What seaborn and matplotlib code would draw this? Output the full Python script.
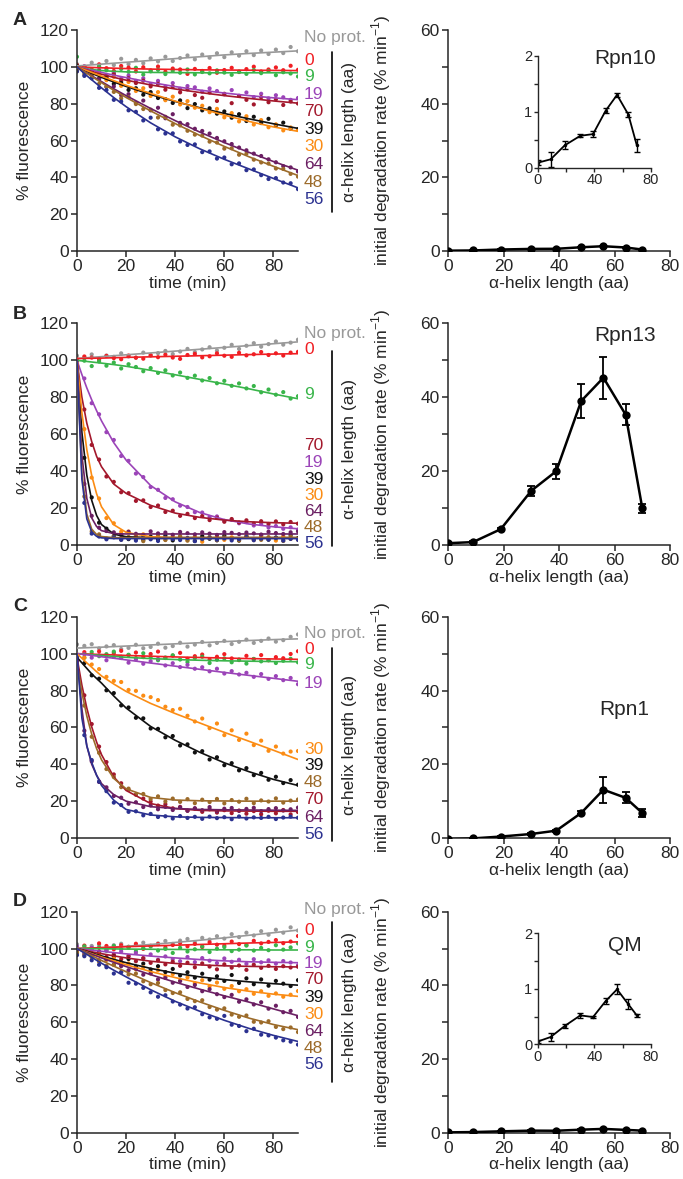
import numpy as np
import pandas as pd
import matplotlib
matplotlib.use("Agg")
import matplotlib.pyplot as plt
import seaborn as sns

# time points (min)
fit_time = [0, 2, 4, 6, 8, 10, 15, 20, 30, 40, 50, 60, 70, 80, 90]
dot_time = list(range(0, 91, 3))

series = ["No prot.", "0", "9", "19", "70", "39", "30", "64", "48", "56"]
palette = {"No prot.": "#999999", "0": "#f01e23", "9": "#39b54a", "19": "#9b44b8",
           "70": "#a3182c", "39": "#111111", "30": "#fb8c14", "64": "#6b1f63",
           "48": "#9c6b2a", "56": "#2b3190"}

# ---- panel A (Rpn10) ----
fit_A = {
    "No prot.": [100.5, 100.7, 100.9, 101.1, 101.3, 101.5, 102, 102.5, 103.5, 104.5, 105.5, 106.5, 107.3, 108, 108.7],
    "0": [100, 99.9, 99.8, 99.7, 99.6, 99.5, 99.3, 99.1, 98.8, 98.6, 98.4, 98.3, 98.2, 98.1, 98],
    "9": [100, 99.5, 99, 98.6, 98.3, 98, 97.6, 97.3, 97, 96.9, 96.8, 96.8, 96.8, 96.8, 96.8],
    "19": [100, 99.4, 98.8, 98.2, 97.6, 97, 95.5, 94.2, 91.6, 89.3, 87.4, 85.8, 84.4, 83.2, 82.2],
    "70": [100, 99.1, 98.3, 97.5, 96.7, 96, 94.3, 92.8, 90.2, 88, 86.1, 84.4, 82.9, 81.5, 80.3],
    "39": [100, 98.8, 97.6, 96.5, 95.4, 94.3, 91.8, 89.4, 85, 81.2, 77.8, 74.7, 71.8, 69.1, 66.6],
    "30": [100, 99, 98, 97, 96, 95, 92.5, 90, 85.6, 81.4, 77.5, 73.8, 70.4, 67.4, 65],
    "64": [100, 98.4, 96.8, 95.2, 93.6, 92, 88.1, 84.4, 77.4, 70.8, 64.6, 58.9, 53.6, 48.6, 43.9],
    "48": [100, 98.2, 96.5, 94.8, 93.1, 91.4, 87.3, 83.4, 76.1, 69.2, 62.8, 56.8, 51.2, 46, 41],
    "56": [100, 97.6, 95.2, 93, 90.8, 88.6, 83.3, 78.4, 69.6, 62, 55.5, 49.8, 44.6, 39.4, 34.3],
}
dots_A = {
    "No prot.": [101.5, 99.8, 102.3, 100.4, 103.2, 101, 104.4, 101.5, 103.8, 102, 104.6, 103, 105.5, 103.2, 104.8, 106.2, 104.1, 106.7, 105, 107.4, 105.3, 107.9, 106.1, 108.5, 106.4, 108.9, 107, 109.4, 107.5, 110.8, 108.5],
    "0": [101, 100.2, 98.6, 101.4, 99.3, 97.8, 100.5, 99.6, 97.5, 99.8, 98.1, 100.2, 97.4, 99.1, 98.6, 96.2, 98.9, 97.8, 99.4, 96.8, 98.3, 99.5, 97.2, 98.8, 100.1, 97.5, 98.6, 99.7, 98.2, 100.6, 98.4],
    "9": [105.5, 99.2, 97.8, 100.1, 98.2, 96.4, 98.9, 97.3, 99.5, 95.8, 97.6, 98.4, 96.1, 97.9, 96.8, 98.6, 95.9, 97.2, 96.5, 98.1, 96.9, 95.7, 97.5, 96.2, 98.3, 96.6, 97.8, 95.5, 97.1, 96.4, 94.8],
    "19": [99.4, 100.3, 97.1, 98.4, 95.2, 96.8, 93.6, 95.3, 92.4, 93.8, 90.5, 92.4, 89.3, 91.2, 88.1, 89.6, 88.9, 86.5, 88.3, 86.9, 85.1, 87.4, 84.3, 86.1, 83.6, 85.4, 82.9, 84.6, 83.5, 82.1, 83.1],
    "70": [98.2, 99.6, 96.4, 97.8, 94.6, 95.9, 92.3, 93.8, 91.2, 92.5, 89.4, 90.8, 87.6, 89.3, 86.2, 87.8, 84.7, 83.2, 86.1, 81.5, 85.4, 80.3, 84.2, 82.1, 79.6, 83.5, 80.8, 82.4, 79.3, 81.2, 80.1],
    "39": [100.5, 97.1, 97.4, 93.6, 94.5, 90.8, 91.2, 87.5, 88.4, 84.9, 86.3, 83.1, 82.5, 80.4, 81.8, 77.6, 79.8, 76.4, 77.5, 74.6, 75.8, 72.4, 74.3, 70.6, 72.9, 69.5, 71.8, 68.2, 69.7, 66.4, 66.2],
    "30": [97.8, 99.3, 95.6, 96.7, 92.8, 94.6, 89.7, 91.8, 86.9, 88.4, 84.2, 86.3, 81.9, 83.8, 79.6, 81.4, 77.8, 78.9, 75.4, 77.2, 72.6, 74.9, 70.4, 73.2, 68.7, 71.1, 67.2, 68.8, 65.5, 67.1, 65.8],
    "64": [99, 97.8, 94.1, 93.6, 89.2, 89.4, 84.6, 85.2, 80.3, 81.7, 76.4, 77.8, 72.1, 74.3, 69.6, 68.9, 66.4, 65.2, 63.8, 61.4, 59.6, 58.1, 56.2, 54.7, 52.9, 51.6, 49.8, 48.2, 46.1, 45.4, 43.2],
    "48": [98.5, 95.9, 95.6, 90.8, 89.2, 86.4, 82.9, 83.6, 79.8, 77.1, 76.8, 72.5, 72.9, 68.6, 68.2, 65.3, 63.2, 62.7, 59.4, 58.9, 55.6, 55.8, 52.3, 52.9, 49.6, 48.1, 47.5, 44.8, 44.6, 41.9, 40.4],
    "56": [97.5, 95.1, 93.8, 88.6, 87.4, 82.1, 81.2, 76.4, 75.6, 70.9, 72.4, 66.1, 63.8, 63.9, 59.5, 57.6, 57.9, 53.7, 54.1, 50.2, 50.8, 47.1, 47.6, 43.9, 44.3, 41.2, 39.1, 39.6, 37.2, 36.8, 33.6],
}

# ---- panel B (Rpn13) ----
fit_B = {
    "No prot.": [101, 101.2, 101.4, 101.6, 101.8, 102, 102.5, 103, 104, 105, 106, 107, 108, 109, 110],
    "0": [101, 101, 101.1, 101.1, 101.2, 101.2, 101.4, 101.6, 101.9, 102.2, 102.5, 102.8, 103.1, 103.4, 103.6],
    "9": [100, 99.7, 99.4, 99.1, 98.8, 98.5, 97.7, 96.8, 94.6, 92.2, 89.7, 87.2, 84.6, 81.8, 79.2],
    "19": [100, 92.3, 85.1, 78.6, 72.7, 67.2, 55.4, 46, 32.2, 23.4, 17.6, 13.8, 11.4, 9.9, 8.8],
    "70": [100, 80, 66, 56, 48, 42.4, 33, 28, 21.5, 17.3, 15, 13.5, 12.6, 12.1, 11.8],
    "39": [100, 61, 37.9, 24.2, 16, 11.1, 5.9, 4.5, 4, 4, 4, 4, 4, 4, 4],
    "30": [100, 71.7, 51.7, 37.6, 27.7, 20.7, 11, 6.9, 4.5, 4, 4, 4, 4, 4, 4],
    "64": [100, 48.6, 25.3, 14.7, 10, 7.8, 6.2, 6, 6, 6, 6, 6, 6, 6, 6],
    "48": [100, 39, 16.8, 8.6, 5.7, 4.6, 4, 4, 4, 4, 4, 4, 4, 4, 4],
    "56": [100, 35.6, 14.2, 7.1, 4.7, 3.9, 3.5, 3.5, 3.5, 3.5, 3.5, 3.5, 3.5, 3.5, 3.5],
}
dots_B = {
    "No prot.": [102.5, 101.4, 103.2, 100.8, 102.6, 101.9, 103.8, 102.1, 101.5, 104.2, 102.6, 103.9, 105.1, 103.4, 104.8, 106.2, 104.5, 105.9, 107.1, 105.3, 106.8, 108.4, 106.2, 107.9, 109.3, 107.4, 108.8, 110.2, 108.5, 109.6, 111.2],
    "0": [100.5, 102.1, 101.5, 100.3, 102.4, 101.2, 100.6, 102.6, 101.4, 100.9, 102.8, 101.7, 103.1, 101.5, 100.8, 102.9, 103.5, 101.6, 102.2, 103.8, 102.5, 101.9, 104.1, 102.7, 103.3, 104.5, 102.9, 103.8, 102.6, 104.2, 104.6],
    "9": [98.2, 99.8, 96.9, 99.4, 97.1, 98.8, 95.6, 97.9, 96.4, 94.1, 95.8, 93.2, 94.6, 91.8, 93.4, 90.5, 91.7, 89.1, 90.4, 87.6, 88.9, 86.2, 87.5, 84.8, 86.1, 82.7, 84.2, 81.4, 82.8, 79.3, 80.6],
    "19": [97.4, 90.2, 76.8, 70.8, 61.1, 56.9, 48.2, 45.6, 38.7, 36.8, 31.4, 29.9, 25.5, 24.8, 21.3, 20.6, 17.8, 17.6, 15.2, 15.5, 13.1, 13.6, 11.8, 12.4, 10.6, 11.4, 9.5, 10.3, 8.8, 9.6, 8.4],
    "70": [98.5, 73.4, 54.2, 46.3, 37.1, 34.2, 28.6, 28.1, 23.9, 24.2, 20.6, 21.4, 17.9, 18.6, 15.8, 16.9, 14.6, 15.7, 13.5, 14.8, 12.6, 14.1, 12.2, 13.4, 11.6, 12.9, 11.4, 12.8, 11.2, 12.5, 11.6],
    "39": [99, 47.2, 25.8, 12.1, 8.9, 4.8, 5.6, 3.2, 4.9, 2.8, 4.6, 3.1, 5.2, 2.5, 4.3, 3.6, 2.2, 4.8, 3.4, 2.6, 5.1, 3.8, 2.4, 4.5, 3.2, 5.3, 2.9, 4.1, 3.6, 5.5, 3.8],
    "30": [98.6, 62.8, 36.5, 25.2, 14.6, 11.8, 7.2, 7.3, 4.6, 5.8, 3.4, 5.2, 2.9, 4.7, 3.8, 2.6, 4.5, 1.8, 3.9, 4.6, 2.8, 4.2, 3.1, 5.1, 2.7, 4.6, 3.5, 2.4, 4.8, 3.3, 2.9],
    "64": [97, 33.1, 15.8, 9.4, 7.6, 6.9, 5.4, 7.2, 6.1, 5.2, 7.4, 6.3, 6.8, 5.6, 7.1, 6.4, 5.8, 6.9, 6.2, 5.5, 7, 6.6, 5.9, 6.8, 6.3, 5.7, 7.2, 6.5, 6, 6.9, 7.4],
    "48": [96, 26.3, 7.4, 5.8, 3.6, 4.8, 2.9, 4.4, 3.3, 2.1, 3.8, 4.6, 2.7, 3.5, 4.9, 2.4, 3.8, 3.1, 4.4, 2.6, 4.1, 3.3, 2.5, 4.7, 3.4, 2.8, 4.3, 3.6, 2.2, 4.5, 3.1],
    "56": [97, 22.8, 6.2, 4.6, 3.1, 4.2, 2.8, 3.5, 2.4, 3.9, 3.1, 2.2, 4.1, 3.3, 2.7, 3.8, 2.1, 3.4, 4, 2.9, 3.6, 2.5, 3.2, 4.4, 2.6, 3.5, 3, 3.9, 2.4, 3.3, 2.8],
}

# ---- panel C (Rpn1) ----
fit_C = {
    "No prot.": [103, 103.1, 103.2, 103.3, 103.4, 103.5, 103.8, 104.1, 104.7, 105.3, 105.9, 106.5, 107.1, 107.6, 108],
    "0": [100, 99.9, 99.8, 99.7, 99.6, 99.5, 99.3, 99, 98.6, 98.2, 97.9, 97.6, 97.3, 97.1, 96.9],
    "9": [100, 99.8, 99.6, 99.4, 99.2, 99, 98.5, 98, 97.3, 96.8, 96.4, 96.1, 95.9, 95.7, 95.6],
    "19": [100, 99.7, 99.4, 99, 98.7, 98.3, 97.5, 96.6, 94.9, 93.2, 91.5, 89.8, 88.2, 86.6, 85],
    "70": [98, 82.9, 70.5, 60.3, 52, 45.2, 33.1, 25.8, 18.7, 16, 15, 14.7, 14.6, 14.5, 14.5],
    "39": [98, 95, 92, 89, 86.5, 84, 77, 70.5, 60.5, 53, 46.5, 40.8, 36, 31.8, 28.5],
    "30": [100, 97.5, 95, 92.6, 90.2, 87.9, 83.5, 79.5, 73, 67.5, 62.4, 57.3, 52.5, 47.6, 42.6],
    "64": [100, 70, 50, 40, 34, 29.5, 23.5, 20, 17, 16, 15.5, 15.3, 15.2, 15.1, 15],
    "48": [95, 78.9, 66.2, 56.3, 48.5, 42.4, 32.3, 26.7, 22, 20.6, 20.2, 20.1, 20, 20, 20],
    "56": [100, 65, 50, 41, 34, 28.5, 20.5, 15.5, 12.5, 11.5, 11.2, 11.1, 11, 11, 11],
}
dots_C = {
    "No prot.": [105, 104.2, 105.1, 102.8, 103.9, 104.6, 102.5, 103.1, 104.8, 102.9, 103.6, 105.4, 103.2, 104.1, 105.9, 103.8, 104.9, 106.3, 104.5, 105.8, 106.9, 105.2, 106.4, 107.6, 105.8, 106.9, 108.2, 106.5, 107.3, 109.1, 110.4],
    "0": [98.5, 100.8, 99.4, 101.2, 98.9, 100.3, 101.5, 99.2, 100.6, 98.1, 99.8, 101.1, 97.6, 98.9, 100.4, 97.2, 98.6, 99.5, 96.8, 98.3, 99.7, 97.4, 96.5, 98.8, 97.1, 99.2, 96.4, 98.1, 97.5, 99.8, 101.3],
    "9": [99.2, 97.8, 100.9, 98.6, 99.7, 101.1, 98.3, 99.4, 97.6, 100.2, 98.1, 96.4, 97.9, 99.1, 96.8, 95.4, 97.6, 98.3, 94.9, 96.7, 97.4, 95.3, 96.8, 94.6, 97.1, 95.8, 96.5, 94.9, 96.1, 97.2, 95.3],
    "19": [98.2, 99.6, 97.8, 99.1, 96.4, 98.2, 97.6, 95.1, 96.8, 94.5, 95.9, 97.2, 93.6, 94.8, 92.7, 93.9, 91.8, 92.6, 90.4, 91.8, 89.2, 90.5, 88.7, 89.6, 87.4, 88.9, 86.3, 87.8, 85.6, 86.8, 83.4],
    "70": [96, 77.4, 61.8, 49.6, 41.2, 34.5, 29.7, 26.1, 23.6, 21.4, 19.8, 17.6, 18.3, 16.1, 16.9, 14.8, 15.9, 14.2, 15.6, 13.8, 15.1, 13.5, 14.9, 13.2, 14.6, 12.9, 14.8, 13.4, 15.2, 12.8, 14.1],
    "39": [97.5, 94.8, 88.2, 86.4, 80.1, 78.6, 71.9, 70.8, 65.2, 64.9, 59.4, 59.2, 54.6, 55.3, 50.2, 50.8, 46.4, 47.1, 42.6, 43.8, 39.5, 40.6, 36.7, 37.9, 34.1, 35.3, 31.6, 33.2, 29.8, 31.4, 28.9],
    "30": [99.3, 97.8, 94.1, 91.6, 87.4, 85.2, 84.6, 80.3, 79.8, 77.2, 76.4, 74.8, 71.2, 69.4, 70.1, 66.3, 63.2, 64.8, 59.6, 62.1, 55.8, 58.4, 53.2, 56.6, 50.4, 52.8, 47.3, 49.6, 45.8, 46.9, 47.2],
    "64": [98, 58.2, 41.6, 30.4, 27.5, 22.8, 21.9, 18.6, 19.4, 16.8, 17.7, 15.6, 16.9, 15.2, 16.6, 14.8, 16.2, 15.1, 16.8, 14.5, 15.9, 16.3, 14.7, 15.8, 16.4, 14.6, 15.7, 16.2, 14.9, 15.6, 16.5],
    "48": [92, 71.8, 54.9, 46.2, 37.4, 33.1, 27.6, 26.8, 23.5, 23.9, 21.2, 22.6, 19.8, 21.4, 19.6, 21.1, 18.9, 20.8, 19.5, 21.2, 18.8, 20.6, 19.7, 21.3, 18.9, 20.4, 19.8, 21.5, 19.2, 20.3, 20.9],
    "56": [98, 55.8, 42.3, 30.6, 25.4, 19.2, 17.9, 14.2, 14.5, 12.3, 13.1, 11.4, 11.8, 10.6, 11.9, 10.9, 11.5, 10.4, 11.6, 10.8, 11.3, 10.2, 11.7, 10.6, 11.2, 10.9, 11.5, 10.3, 11.1, 11.6, 11],
}

# ---- panel D (QM) ----
fit_D = {
    "No prot.": [100, 100.1, 100.2, 100.3, 100.4, 100.5, 100.8, 101.2, 102.2, 103.3, 104.5, 105.8, 107.2, 108.6, 110],
    "0": [100, 100.1, 100.2, 100.3, 100.4, 100.5, 100.7, 101, 101.4, 101.8, 102.2, 102.6, 103, 103.3, 103.6],
    "9": [100, 100, 100, 99.9, 99.9, 99.9, 99.8, 99.7, 99.6, 99.5, 99.4, 99.3, 99.3, 99.2, 99.2],
    "19": [100, 99.7, 99.4, 99.1, 98.8, 98.5, 97.8, 97.1, 95.9, 94.9, 94, 93.3, 92.8, 92.5, 92.3],
    "70": [100, 99.4, 98.8, 98.2, 97.7, 97.2, 96, 94.9, 93.1, 91.9, 91.1, 90.6, 90.3, 90.1, 90],
    "39": [100, 99.2, 98.4, 97.6, 96.8, 96, 94.1, 92.3, 89.2, 86.6, 84.6, 83.1, 81.9, 80.9, 80.1],
    "30": [100, 99, 98.1, 97.2, 96.3, 95.4, 93.3, 91.2, 87.5, 84.2, 81.3, 78.8, 76.8, 75.2, 74],
    "64": [100, 98.9, 97.9, 96.9, 95.9, 94.9, 92.5, 90.2, 85.8, 81.7, 77.9, 74.3, 70.9, 67.2, 63.5],
    "48": [100, 98.7, 97.4, 96.1, 94.8, 93.5, 90.4, 87.4, 81.5, 76, 71, 66.4, 62.2, 58.7, 55.9],
    "56": [100, 98.4, 96.8, 95.2, 93.6, 92, 88.2, 84.6, 77.6, 71.3, 65.9, 61, 56.6, 52.8, 49.5],
}
dots_D = {
    "No prot.": [102.3, 98.6, 101.4, 102.1, 99.5, 101.8, 102.6, 100.4, 101.9, 103.2, 101.1, 102.8, 104.1, 102.5, 104.3, 105.2, 103.4, 105.8, 104.9, 106.7, 105.4, 107.8, 106.2, 108.6, 107.1, 109.4, 107.5, 110.2, 108.6, 111.5, 109.8],
    "0": [99.8, 101.6, 100.2, 102.8, 101.4, 99.6, 101.8, 100.9, 102.6, 99.8, 101.5, 102.4, 100.6, 101.9, 103.1, 101.2, 102.5, 100.8, 103.4, 102.1, 101.6, 103.8, 102.4, 101.9, 104.2, 102.8, 103.6, 104.6, 102.9, 103.8, 106.8],
    "9": [98.6, 101.2, 99.4, 100.6, 98.8, 101.4, 99.7, 100.9, 98.5, 100.2, 101.3, 98.9, 99.8, 97.6, 100.4, 98.4, 99.6, 101.2, 98.1, 99.9, 100.8, 98.6, 99.4, 101.6, 98.9, 100.3, 99.1, 101.8, 99.4, 100.6, 102.8],
    "19": [101.2, 98.6, 100.4, 97.8, 99.3, 96.5, 98.4, 95.8, 97.6, 94.6, 96.8, 93.9, 95.7, 94.2, 93.1, 95.4, 92.6, 94.8, 93.4, 92.1, 94.6, 92.8, 93.9, 91.7, 94.2, 92.5, 93.6, 91.8, 93.2, 92.4, 90.9],
    "70": [98.8, 99.6, 97.2, 98.5, 95.4, 96.8, 94.2, 95.9, 93.1, 94.8, 92.2, 93.6, 91.4, 92.8, 90.6, 92.3, 89.8, 91.9, 90.2, 88.7, 91.4, 89.6, 90.8, 88.4, 91.2, 89.5, 90.6, 88.9, 90.4, 89.7, 90.1],
    "39": [97.6, 99.4, 96.2, 97.8, 94.1, 95.6, 92.4, 94.3, 90.2, 91.8, 88.6, 90.4, 87.2, 88.9, 85.4, 87.1, 84.2, 86.3, 83.1, 84.9, 82.4, 85.6, 81.3, 83.8, 80.6, 83.2, 79.8, 82.4, 80.9, 79.6, 82.8],
    "30": [98.2, 99.6, 96.5, 97.1, 93.8, 94.6, 91.4, 91.9, 88.7, 89.8, 86.4, 88.2, 84.9, 86.1, 82.6, 84.3, 81.2, 82.8, 79.4, 81.5, 78.1, 79.6, 76.8, 77.9, 75.4, 76.8, 74.3, 75.6, 73.8, 74.9, 76.9],
    "64": [99.2, 97.1, 96.8, 93.6, 94.2, 91.3, 90.4, 88.2, 89.1, 85.8, 86.6, 83.2, 84.1, 81.4, 82.3, 79.1, 80.2, 76.8, 77.9, 75.2, 73.6, 74.8, 71.1, 72.4, 69.6, 70.8, 67.3, 68.9, 65.4, 66.1, 62.8],
    "48": [97.8, 96.4, 95.2, 92.8, 90.6, 91.1, 87.3, 85.9, 86.4, 82.2, 80.6, 81.3, 77.4, 75.8, 76.2, 72.6, 71.4, 71.9, 68.2, 66.8, 67.5, 64.1, 62.9, 63.6, 60.2, 59.8, 60.5, 57.4, 56.2, 57.1, 54.6],
    "56": [96.4, 95.8, 93.6, 91.2, 89.8, 86.4, 87.1, 81.4, 80.9, 78.6, 76.2, 73.8, 74.6, 71.2, 69.5, 67.4, 68.1, 64.3, 62.6, 61.8, 63.4, 58.6, 57.9, 55.1, 56.4, 53.2, 52.8, 51.6, 50.1, 49.4, 47.8],
}

# initial degradation rates (% / min) vs helix length
helix = [0, 9, 19, 30, 39, 48, 56, 64, 70]
rate_A = [0.09, 0.15, 0.40, 0.57, 0.60, 1.02, 1.30, 0.95, 0.40]
err_A = [0.05, 0.13, 0.07, 0.03, 0.06, 0.05, 0.04, 0.04, 0.12]
rate_B = [0.5, 0.8, 4.3, 14.7, 20.0, 39.0, 45.3, 35.3, 10.0]
err_B = [0.2, 0.2, 0.3, 1.3, 2.0, 4.6, 5.7, 2.8, 1.2]
rate_C = [-0.3, -0.1, 0.4, 1.1, 2.0, 6.8, 13.1, 10.9, 6.8]
err_C = [0.2, 0.2, 0.2, 0.3, 0.3, 0.4, 3.5, 1.5, 1.0]
rate_D = [0.05, 0.13, 0.33, 0.52, 0.49, 0.78, 0.99, 0.72, 0.52]
err_D = [0.03, 0.07, 0.04, 0.05, 0.02, 0.05, 0.09, 0.09, 0.03]

# label order on the right of each time course
order_A = ["No prot.", "0", "9", "19", "70", "39", "30", "64", "48", "56"]
order_B = ["No prot.", "0", "9", "70", "19", "39", "30", "64", "48", "56"]
order_C = ["No prot.", "0", "9", "19", "30", "39", "48", "70", "64", "56"]
order_D = ["No prot.", "0", "9", "19", "70", "39", "30", "64", "48", "56"]

sns.set_style("ticks")
plt.rcParams["font.family"] = ["Liberation Sans", "DejaVu Sans"]
plt.rcParams["mathtext.fontset"] = "custom"
plt.rcParams["mathtext.rm"] = "Liberation Sans"
plt.rcParams["axes.linewidth"] = 1.1
FS = 12.5


def to_long(table, times):
    rows = []
    for name, vals in table.items():
        for t, v in zip(times, vals):
            rows.append((name, t, v))
    return pd.DataFrame(rows, columns=["series", "time", "fluor"])


def style_axes(ax):
    sns.despine(ax=ax)
    ax.tick_params(direction="out", length=4, width=1.1, labelsize=FS, pad=2)


def draw_curves(ax, fits, dots, order, label_y, bar):
    d = to_long(dots, dot_time)
    f = to_long(fits, fit_time)
    sns.scatterplot(data=d, x="time", y="fluor", hue="series", hue_order=series,
                    palette=palette, s=9, linewidth=0, legend=False, ax=ax, zorder=2)
    sns.lineplot(data=f, x="time", y="fluor", hue="series", hue_order=series,
                 palette=palette, lw=1.2, legend=False, errorbar=None, ax=ax, zorder=3)
    ax.set_xlim(0, 90)
    ax.set_ylim(0, 120)
    ax.set_xticks([0, 20, 40, 60, 80])
    ax.set_yticks([0, 20, 40, 60, 80, 100, 120])
    ax.set_xlabel("time (min)", fontsize=FS, labelpad=1)
    ax.set_ylabel("% fluorescence", fontsize=FS)
    ax.yaxis.set_label_coords(-0.205, 0.5)
    style_axes(ax)
    for name, yf in zip(order, label_y):
        ax.text(1.027, yf, name, color=palette[name], transform=ax.transAxes,
                ha="left", va="center", fontsize=FS)
    ax.plot([1.152, 1.152], bar, transform=ax.transAxes, color="k", lw=1.2, clip_on=False)
    ax.text(1.235, np.mean(bar), "α-helix length (aa)", rotation=90, transform=ax.transAxes,
            ha="center", va="center", fontsize=FS)


def draw_rates(ax, rate, err, name, name_pos, inset=None):
    sns.lineplot(x=helix, y=rate, color="k", lw=1.8, marker="o", markersize=6,
                 markeredgewidth=0, ax=ax, zorder=3)
    ax.errorbar(helix, rate, yerr=err, fmt="none", ecolor="k", elinewidth=1.3,
                capsize=3, capthick=1.3, zorder=3)
    ax.set_xlim(0, 80)
    ax.set_ylim(0, 60)
    ax.set_xticks([0, 20, 40, 60, 80])
    ax.set_yticks([0, 20, 40, 60])
    ax.set_yticks([10, 30, 50], minor=True)
    ax.tick_params(which="minor", length=4, width=1.1)
    ax.set_xlabel("α-helix length (aa)", fontsize=FS, labelpad=1)
    ax.set_ylabel("initial degradation rate (% min$^{-1}$)", fontsize=FS)
    ax.yaxis.set_label_coords(-0.248, 0.5)
    style_axes(ax)
    if inset is not None:
        ins = ax.inset_axes(inset)
        ins.set_facecolor("none")
        sns.lineplot(x=helix, y=rate, color="k", lw=1.3, marker="o", markersize=2.5,
                     markeredgewidth=0, ax=ins)
        ins.errorbar(helix, rate, yerr=err, fmt="none", ecolor="k", elinewidth=1,
                     capsize=2, capthick=1)
        ins.set_xlim(0, 80)
        ins.set_ylim(0, 2)
        ins.set_xticks([0, 40, 80])
        ins.set_xticks([20, 60], minor=True)
        ins.set_yticks([0, 1, 2])
        ins.set_yticks([0.5, 1.5], minor=True)
        sns.despine(ax=ins)
        for s in ["left", "bottom"]:
            ins.spines[s].set_linewidth(1.0)
        ins.tick_params(which="both", direction="out", length=3, width=1.0,
                        labelsize=10.5, pad=1)
    ax.text(name_pos[0], name_pos[1], name, transform=ax.transAxes, ha="center",
            va="center", fontsize=15, zorder=10)


fig = plt.figure(figsize=(6.83, 11.79), dpi=100)

left_x, left_w = 0.1127, 0.3236
right_x, right_w = 0.656, 0.325
rows_y = [(0.7871, 0.1874), (0.5377, 0.1880), (0.2892, 0.1877), (0.0394, 0.1873)]

axA = fig.add_axes([left_x, rows_y[0][0], left_w, rows_y[0][1]])
axB = fig.add_axes([left_x, rows_y[1][0], left_w, rows_y[1][1]])
axC = fig.add_axes([left_x, rows_y[2][0], left_w, rows_y[2][1]])
axD = fig.add_axes([left_x, rows_y[3][0], left_w, rows_y[3][1]])
rA = fig.add_axes([right_x, rows_y[0][0], right_w, rows_y[0][1]])
rB = fig.add_axes([right_x, rows_y[1][0], right_w, rows_y[1][1]])
rC = fig.add_axes([right_x, rows_y[2][0], right_w, rows_y[2][1]])
rD = fig.add_axes([right_x, rows_y[3][0], right_w, rows_y[3][1]])

draw_curves(axA, fit_A, dots_A, order_A,
            [0.968, 0.864, 0.789, 0.709, 0.631, 0.551, 0.472, 0.392, 0.311, 0.231], (0.902, 0.178))
draw_curves(axB, fit_B, dots_B, order_B,
            [0.955, 0.880, 0.680, 0.447, 0.371, 0.296, 0.222, 0.150, 0.080, 0.008], (0.875, -0.005))
draw_curves(axC, fit_C, dots_C, order_C,
            [0.925, 0.854, 0.782, 0.700, 0.402, 0.328, 0.253, 0.173, 0.095, 0.015], (0.859, -0.015))
draw_curves(axD, fit_D, dots_D, order_D,
            [1.011, 0.917, 0.839, 0.767, 0.691, 0.611, 0.536, 0.457, 0.379, 0.307], (0.955, 0.231))

draw_rates(rA, rate_A, err_A, "Rpn10", (0.797, 0.872), inset=[0.405, 0.377, 0.509, 0.507])
draw_rates(rB, rate_B, err_B, "Rpn13", (0.797, 0.947))
draw_rates(rC, rate_C, err_C, "Rpn1", (0.793, 0.58))
draw_rates(rD, rate_D, err_D, "QM", (0.797, 0.849), inset=[0.405, 0.40, 0.509, 0.502])

for letter, y in zip("ABCD", [0.983, 0.733, 0.4854, 0.2352]):
    fig.text(0.029, y, letter, fontsize=14, fontweight="bold", ha="center", va="center")

fig.savefig("out.png", dpi=100)
